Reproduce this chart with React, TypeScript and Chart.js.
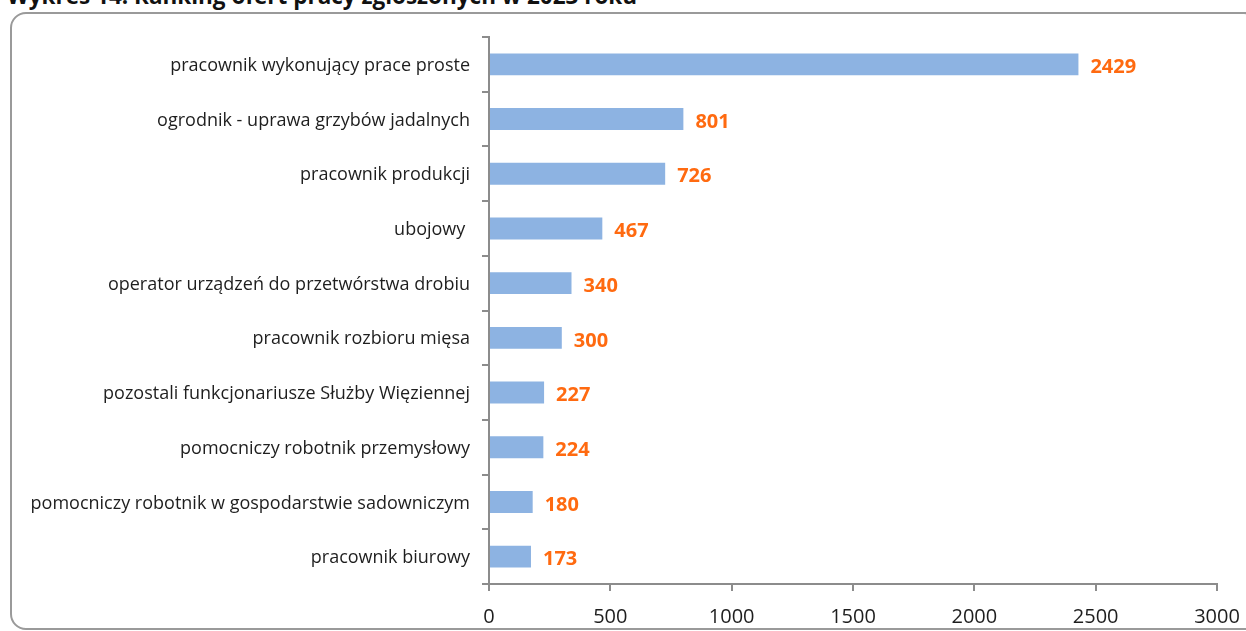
import React, { useEffect, useRef } from "react";
import { Chart, registerables } from "chart.js";

Chart.register(...registerables);

const TITLE = "Wykres 14. Ranking ofert pracy zgłoszonych w 2023 roku";

const categories = [
  "pracownik wykonujący prace proste",
  "ogrodnik - uprawa grzybów jadalnych",
  "pracownik produkcji",
  "ubojowy ",
  "operator urządzeń do przetwórstwa drobiu",
  "pracownik rozbioru mięsa",
  "pozostali funkcjonariusze Służby Więziennej",
  "pomocniczy robotnik przemysłowy",
  "pomocniczy robotnik w gospodarstwie sadowniczym",
  "pracownik biurowy",
];

const values = [2429, 801, 726, 467, 340, 300, 227, 224, 180, 173];

const xTicks = [0, 500, 1000, 1500, 2000, 2500, 3000];

const BAR_COLOR = "#8DB3E2";
const LABEL_COLOR = "#FF6A10";
const AXIS_COLOR = "#8C8C8C";
const TEXT_COLOR = "#1E1E1E";

const valueLabels = {
  id: "valueLabels",
  afterDatasetsDraw(chart: any) {
    const ctx = chart.ctx;
    const meta = chart.getDatasetMeta(0);
    ctx.save();
    ctx.font = "bold 20px 'Open Sans'";
    ctx.fillStyle = LABEL_COLOR;
    ctx.textAlign = "left";
    ctx.textBaseline = "middle";
    meta.data.forEach((el: any, i: number) => {
      const v = chart.data.datasets[0].data[i];
      ctx.fillText(String(v), el.x + 12, el.y + 3);
    });
    ctx.restore();
  },
};

export default function App() {
  const ref = useRef<HTMLCanvasElement | null>(null);

  useEffect(() => {
    if (!ref.current) return;
    const chart = new Chart(ref.current, {
      type: "bar",
      data: {
        labels: categories,
        datasets: [
          {
            data: values,
            backgroundColor: BAR_COLOR,
            borderWidth: 0,
            barPercentage: 0.4,
            categoryPercentage: 1,
          },
        ],
      },
      options: {
        indexAxis: "y",
        responsive: false,
        animation: false,
        layout: { padding: { left: 0, right: 29, top: 37, bottom: 0 } },
        plugins: {
          legend: { display: false },
          tooltip: { enabled: false },
          title: { display: false },
        },
        scales: {
          x: {
            min: xTicks[0],
            max: xTicks[xTicks.length - 1],
            ticks: {
              stepSize: xTicks[1] - xTicks[0],
              color: TEXT_COLOR,
              font: { family: "'Open Sans'", size: 20 },
              padding: 14,
              maxRotation: 0,
              callback: (v: any) => String(v),
            },
            grid: {
              drawOnChartArea: false,
              drawTicks: true,
              tickLength: 7,
              color: AXIS_COLOR,
              lineWidth: 2,
            },
            border: { display: true, color: AXIS_COLOR, width: 2 },
            afterFit(scale: any) {
              scale.height = 47;
              scale.paddingLeft = 0;
              scale.paddingRight = 0;
            },
          },
          y: {
            ticks: {
              color: TEXT_COLOR,
              font: { family: "'Open Sans'", size: 18 },
              padding: 12,
              autoSkip: false,
              labelOffset: 1.5,
            },
            grid: {
              offset: true,
              drawOnChartArea: false,
              drawTicks: true,
              tickLength: 7,
              color: AXIS_COLOR,
              lineWidth: 2,
            },
            border: { display: true, color: AXIS_COLOR, width: 2 },
            afterFit(scale: any) {
              scale.width = 489;
              scale.paddingTop = 0;
              scale.paddingBottom = 0;
            },
          },
        },
      },
      plugins: [valueLabels],
    });
    return () => chart.destroy();
  }, []);

  return (
    <div
      style={{
        position: "fixed",
        left: 0,
        top: 0,
        width: 1246,
        height: 631,
        background: "#fff",
        overflow: "hidden",
      }}
    >
      <div
        style={{
          position: "absolute",
          left: 7,
          top: -15,
          fontFamily: "'Open Sans'",
          fontWeight: 700,
          fontSize: 22.5,
          lineHeight: "22px",
          color: "#111",
          whiteSpace: "nowrap",
        }}
      >
        {TITLE}
      </div>
      <div
        style={{
          position: "absolute",
          left: 10,
          top: 12,
          width: 1246,
          height: 614,
          border: "2px solid #9A9A9A",
          borderRadius: 16,
        }}
      />
      <canvas
        ref={ref}
        width={1246}
        height={631}
        style={{ position: "absolute", left: 0, top: 0, width: 1246, height: 631 }}
      />
    </div>
  );
}
